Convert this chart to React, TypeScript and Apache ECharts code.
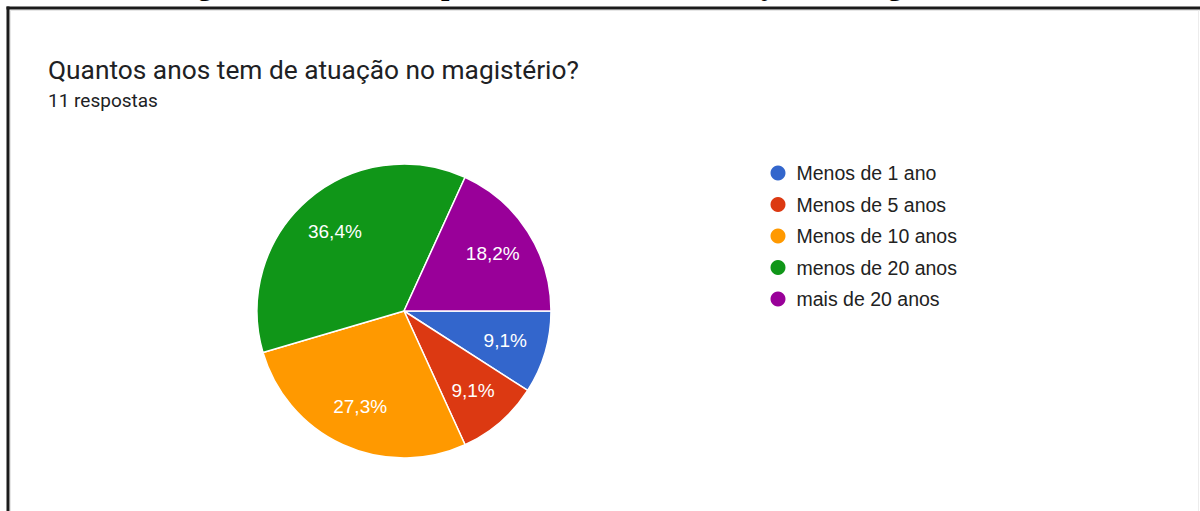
import React, { useEffect, useRef } from "react";
import * as echarts from "echarts";

const categories = [
  "Menos de 1 ano",
  "Menos de 5 anos",
  "Menos de 10 anos",
  "menos de 20 anos",
  "mais de 20 anos",
];
const counts = [1, 1, 3, 4, 2];
const colors = ["#3366cc", "#dc3912", "#ff9900", "#109618", "#990099"];
const chartTitle = "Quantos anos tem de atuação no magistério?";
const subtitle = "11 respostas";
const caption = "Figura 1 – Questão: quantos anos tem de atuação no magistério?";

export default function App() {
  const ref = useRef<HTMLDivElement>(null);

  useEffect(() => {
    if (!ref.current) return;
    const chart = echarts.init(ref.current, null, { renderer: "svg" });
    const data = categories.map((name, i) => ({ name, value: counts[i] }));
    chart.setOption({
      animation: false,
      backgroundColor: "#ffffff",
      color: colors,
      title: {
        text: chartTitle,
        subtext: subtitle,
        left: 48,
        top: 57,
        padding: 0,
        itemGap: 8,
        textStyle: {
          fontFamily: "Roboto",
          fontSize: 26.3,
          fontWeight: "normal",
          color: "#202124",
        },
        subtextStyle: {
          fontFamily: "Roboto",
          fontSize: 19,
          color: "#202124",
        },
      },
      legend: {
        orient: "vertical",
        left: 770.5,
        top: 163,
        padding: 0,
        icon: "circle",
        itemWidth: 27,
        itemHeight: 15,
        itemGap: 11.5,
        data: categories,
        itemStyle: { borderWidth: 0 },
        textStyle: {
          fontFamily: "Liberation Sans",
          fontSize: 19.5,
          lineHeight: 20,
          color: "#222222",
        },
      },
      graphic: [
        {
          type: "text",
          left: 171,
          y: -15.5,
          style: {
            text: caption,
            fontFamily: "Liberation Serif",
            fontWeight: "bold",
            fontSize: 30,
            fill: "#000000",
            verticalAlign: "middle",
          },
        },
        {
          type: "line",
          shape: { x1: 10, y1: 10.5, x2: 1200, y2: 10.5 },
          style: { stroke: "#e6e6e6", lineWidth: 1 },
        },
        {
          type: "line",
          shape: { x1: 10.5, y1: 10, x2: 10.5, y2: 511 },
          style: { stroke: "#e6e6e6", lineWidth: 1 },
        },
        {
          type: "line",
          shape: { x1: 1198.5, y1: 10, x2: 1198.5, y2: 511 },
          style: { stroke: "#ececec", lineWidth: 1 },
        },
        {
          type: "line",
          shape: { x1: 6.5, y1: 8, x2: 1200, y2: 8 },
          style: { stroke: "#1b1b1b", lineWidth: 3 },
        },
        {
          type: "line",
          shape: { x1: 8, y1: 6.5, x2: 8, y2: 511 },
          style: { stroke: "#1b1b1b", lineWidth: 3 },
        },
      ],
      series: [
        {
          type: "pie",
          center: [404, 311],
          radius: [0, 147],
          startAngle: 0,
          clockwise: true,
          data,
          label: { show: false },
          labelLine: { show: false },
          emphasis: { disabled: true },
          itemStyle: { borderColor: "#ffffff", borderWidth: 1.5 },
        },
        {
          type: "pie",
          center: [404, 311],
          radius: [58, 147],
          startAngle: 0,
          clockwise: true,
          silent: true,
          data,
          emphasis: { disabled: true },
          itemStyle: { color: "rgba(0,0,0,0)", borderWidth: 0 },
          labelLine: { show: false },
          label: {
            show: true,
            position: "inside",
            fontFamily: "Liberation Sans",
            fontSize: 19,
            color: "#ffffff",
            formatter: (p: any) => p.percent.toFixed(1).replace(".", ",") + "%",
          },
        },
      ],
    });
    return () => chart.dispose();
  }, []);

  return (
    <div
      ref={ref}
      style={{ position: "absolute", left: 0, top: 0, width: 1200, height: 511 }}
    />
  );
}
